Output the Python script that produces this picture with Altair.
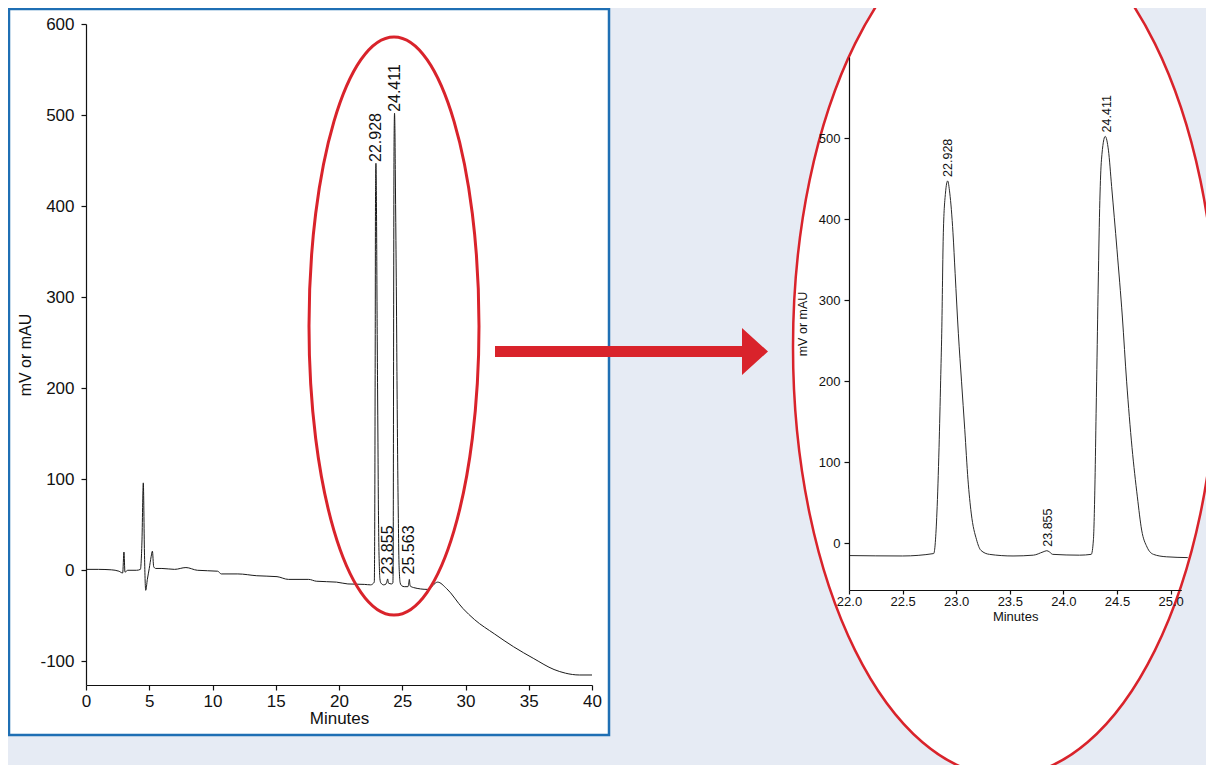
import altair as alt
import pandas as pd

# ---------------- data ----------------
times = [0.0, 1.0, 2.0, 2.6, 2.9, 3.0, 3.08, 3.3, 4.0, 4.3, 4.42, 4.53, 4.62, 4.72, 4.85,
         5.0, 5.15, 5.25, 5.35, 5.5, 6.0, 7.0, 7.9, 8.8, 10.4, 10.7, 12.0, 13.5, 15.1, 16.0,
         17.6, 18.2, 19.8, 20.7, 22.0, 22.5, 22.79, 22.82, 22.84, 22.855, 22.865, 22.88,
         22.90, 22.92, 22.94, 22.97, 22.99, 23.02, 23.05, 23.08, 23.11, 23.14, 23.19, 23.23,
         23.31, 23.53, 23.72, 23.81, 23.845, 23.87, 23.90, 24.15, 24.26, 24.28, 24.295,
         24.305, 24.31, 24.325, 24.34, 24.355, 24.39, 24.42, 24.45, 24.50, 24.55, 24.59,
         24.64, 24.69, 24.73, 24.78, 24.84, 24.96, 25.16, 25.45, 25.52, 25.56, 25.62, 25.9,
         27.0, 27.8, 28.5, 29.8, 30.7, 32.3, 33.8, 35.4, 37.0, 37.9, 39.0, 40.0]
values = [1, 1, 0.5, -1, -3, 20, -2, 0, 0, 1, 30, 96, 20, -22, -10,
          2, 15, 21, 4, 2, 2, 1, 3, 0, -1, -4, -4, -6, -7, -10,
          -10, -12, -13, -15, -15.5, -16, -13, 37, 118, 201, 259, 383,
          432, 447, 432, 383, 333, 259, 199, 140, 78, 37, 4, -9,
          -14, -16, -15, -11, -9.5, -11, -14, -15, -14, 4, 78,
          160, 199, 321, 423, 473, 502, 485, 440, 362, 279, 199,
          118, 57, 16, -5, -14, -17, -18, -18, -14, -10, -17, -19,
          -21, -13, -20, -42, -54, -70, -84, -97, -109, -113, -115, -115]

peak_text = ["22.928", "23.855", "24.411", "25.563"]
peak_times = [22.928, 23.855, 24.411, 25.563]
peak_heights = [443, -10, 498, -10]

zoom_text = ["22.928", "23.855", "24.411"]
zoom_times = [22.928, 23.855, 24.411]
zoom_heights = [447, -9.5, 502]

full_x_ticks = [0, 5, 10, 15, 20, 25, 30, 35, 40]
full_y_ticks = [-100, 0, 100, 200, 300, 400, 500, 600]
zoom_x_ticks = [22.0, 22.5, 23.0, 23.5, 24.0, 24.5, 25.0]
zoom_y_ticks = [0, 100, 200, 300, 400, 500]

# ---------------- styling / layout ----------------
W, H = 1198, 757
OFF = 8
BG = "#e6ebf4"
RED = "#d9232b"
BLUE = "#1f6fb4"
INK = "#111111"
FONT = "Liberation Sans"
HYPHEN_LABEL = "datum.value < 0 ? '-' + abs(datum.value) : '' + datum.value"


def px(v):
    return v - OFF


def ellipse_path(cx, cy, rx, ry):
    k = 0.5523
    f = lambda v: f"{v:.2f}"
    return (f"M{f(cx)},{f(cy-ry)} "
            f"C{f(cx+k*rx)},{f(cy-ry)} {f(cx+rx)},{f(cy-k*ry)} {f(cx+rx)},{f(cy)} "
            f"C{f(cx+rx)},{f(cy+k*ry)} {f(cx+k*rx)},{f(cy+ry)} {f(cx)},{f(cy+ry)} "
            f"C{f(cx-k*rx)},{f(cy+ry)} {f(cx-rx)},{f(cy+k*ry)} {f(cx-rx)},{f(cy)} "
            f"C{f(cx-rx)},{f(cy-k*ry)} {f(cx-k*rx)},{f(cy-ry)} {f(cx)},{f(cy-ry)} Z")


def poly_path(pts):
    return "M" + " L".join(f"{px(x):.1f},{px(y):.1f}" for x, y in pts) + " Z"


trace = pd.DataFrame({"t": times, "v": values})
peaks = pd.DataFrame({"t": peak_times, "v": peak_heights, "label": peak_text})
zpeaks = pd.DataFrame({"t": zoom_times, "v": zoom_heights, "label": zoom_text})
one = pd.DataFrame({"k": [0]})

# ---------------- left panel ----------------
panel = alt.Chart(one).mark_rect(fill="white", stroke=BLUE, strokeWidth=2.5).encode(
    x=alt.value(px(9)), x2=alt.value(px(609)), y=alt.value(px(9)), y2=alt.value(px(735)))

lx = alt.Scale(domain=[0, 40], range=[px(86), px(592)], nice=False, zero=False)
ly = alt.Scale(domain=[-126, 600], range=[px(685), px(24)], nice=False, zero=False)

lx_axis = alt.Axis(orient="bottom", offset=px(685) - H, values=full_x_ticks, title="Minutes",
                   tickSize=5, labelPadding=3, titlePadding=1, labelFontSize=17,
                   titleFontSize=17, zindex=1, grid=False, labelFlush=False)
ly_axis = alt.Axis(orient="left", offset=-px(86), values=full_y_ticks, title="mV or mAU",
                   tickSize=5, labelPadding=7, titlePadding=6, labelFontSize=17,
                   titleFontSize=16, zindex=1, grid=False, labelFlush=False,
                   labelExpr=HYPHEN_LABEL)

left_line = alt.Chart(trace).mark_line(color="#1a1a1a", strokeWidth=1,
                                       interpolate="monotone").encode(
    x=alt.X("t:Q", scale=lx, axis=lx_axis),
    y=alt.Y("v:Q", scale=ly, axis=ly_axis),
    order="t:Q")
left_text = alt.Chart(peaks).mark_text(angle=270, align="left", baseline="middle", dx=5,
                                        fontSize=16, font=FONT, color=INK).encode(
    x=alt.X("t:Q", scale=lx), y=alt.Y("v:Q", scale=ly), text="label:N")
left_chart = alt.layer(left_line, left_text)

left_ellipse = alt.Chart(one).mark_point(
    shape=ellipse_path(px(394), px(326), 85, 289), size=4, filled=False,
    stroke=RED, strokeWidth=3, opacity=1).encode(x=alt.value(0), y=alt.value(0))

# ---------------- zoom panel ----------------
right_ellipse = alt.Chart(one).mark_point(
    shape=ellipse_path(px(1005), px(347), 212, 429), size=4, filled=True,
    fill="white", stroke=RED, strokeWidth=2.5, opacity=1).encode(x=alt.value(0), y=alt.value(0))

rx = alt.Scale(domain=[22, 25.1], range=[px(849), px(849 + 3.1 * 107.2)], nice=False, zero=False)
ry = alt.Scale(domain=[-58, 600], range=[px(590), px(57)], nice=False, zero=False)

rx_axis = alt.Axis(orient="bottom", offset=px(590) - H, values=zoom_x_ticks, format=".1f",
                   title="Minutes", tickSize=4, labelPadding=1, titlePadding=2,
                   labelFontSize=13, titleFontSize=13, zindex=1, grid=False, labelFlush=False)
ry_axis = alt.Axis(orient="left", offset=-px(849), values=zoom_y_ticks, title="mV or mAU",
                   tickSize=5, labelPadding=4, titlePadding=9, labelFontSize=13,
                   titleFontSize=12.5, zindex=1, grid=False, labelFlush=False)

right_line = alt.Chart(trace).mark_line(color="#2a2a2a", strokeWidth=1,
                                        interpolate="monotone").encode(
    x=alt.X("t:Q", scale=rx, axis=rx_axis),
    y=alt.Y("v:Q", scale=ry, axis=ry_axis),
    order="t:Q").transform_filter("datum.t >= 22 && datum.t <= 25.16")
right_text = alt.Chart(zpeaks).mark_text(angle=270, align="left", baseline="middle", dx=4,
                                         fontSize=12.5, font=FONT, color=INK).encode(
    x=alt.X("t:Q", scale=rx), y=alt.Y("v:Q", scale=ry), text="label:N")
right_chart = alt.layer(right_line, right_text)

# ---------------- arrow ----------------
arrow_pts = [(495, 346), (742, 346), (742, 328), (768, 351.5), (742, 375), (742, 357), (495, 357)]
arrow = alt.Chart(one).mark_point(
    shape=poly_path(arrow_pts), size=4, filled=True, fill=RED, strokeWidth=0,
    opacity=1).encode(x=alt.value(0), y=alt.value(0))

chart = alt.layer(
    panel, left_chart, left_ellipse, right_ellipse, right_chart, arrow
).resolve_scale(x="independent", y="independent").properties(
    width=W, height=H, autosize=alt.AutoSizeParams(type="none"), padding=0,
    background=BG
).configure_view(stroke="transparent").configure_axis(
    labelFont=FONT, titleFont=FONT, titleFontWeight="normal",
    labelColor=INK, titleColor=INK, domainColor=INK, tickColor=INK,
    domainWidth=1.2, tickWidth=1.2
)

chart.save("out.html", embed_options={"renderer": "svg", "actions": False})
